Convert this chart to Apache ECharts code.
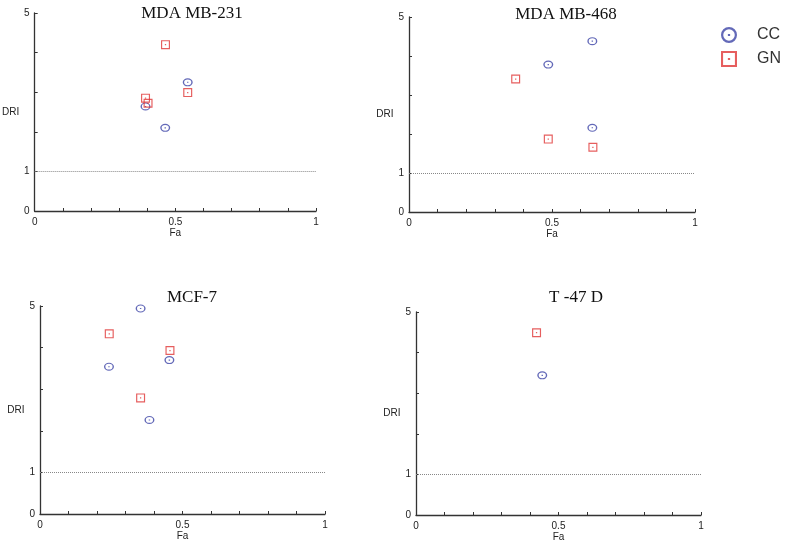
<!DOCTYPE html>
<html>
<head>
<meta charset="utf-8">
<script src="https://cdn.jsdelivr.net/npm/echarts@6/dist/echarts.min.js"></script>
<style>
  html, body { margin: 0; padding: 0; background: #fff; }
  #chart { width: 790px; height: 543px; }
</style>
</head>
<body>
<div id="chart"></div>
<script>
// panel titles
const panelTitles = ['MDA MB-231', 'MDA MB-468', 'MCF-7', 'T -47 D'];

// [Fa, DRI] points
const mb231CC = [[0.394, 2.64], [0.464, 2.10], [0.544, 3.25]];
const mb231GN = [[0.394, 2.85], [0.403, 2.72], [0.465, 4.20], [0.544, 2.99]];
const mb468CC = [[0.487, 3.78], [0.641, 4.38], [0.641, 2.16]];
const mb468GN = [[0.373, 3.41], [0.487, 1.87], [0.643, 1.66]];
const mcf7CC = [[0.242, 3.54], [0.353, 4.94], [0.384, 2.26], [0.454, 3.70]];
const mcf7GN = [[0.243, 4.33], [0.353, 2.79], [0.456, 3.93]];
const t47dCC = [[0.443, 3.44]];
const t47dGN = [[0.423, 4.49]];

const ccSets = [mb231CC, mb468CC, mcf7CC, t47dCC];
const gnSets = [mb231GN, mb468GN, mcf7GN, t47dGN];

// axis ticks
const faLabels = [0, 0.5, 1];
const driLabels = [0, 1, 5];
const refLine = 1;

// panel boxes (px)
const boxes = [
  { left: 28, top: 13, width: 288, height: 198 },
  { left: 409, top: 17, width: 286, height: 195 },
  { left: 40, top: 306, width: 285, height: 208 },
  { left: 416, top: 312, width: 285, height: 203 }
];
const titlePos = [[187, 0], [561, 1], [187, 284], [571, 284]];

const ccColor = '#3c44a6';
const gnColor = '#e03636';
// hollow markers with a centre dot, like the original plot
const circleIcon = 'path://M0,-5A5,5 0 1,1 0,5A5,5 0 1,1 0,-5Z M0,-3.6A3.6,3.6 0 1,0 0,3.6A3.6,3.6 0 1,0 0,-3.6Z M-0.7,-0.7h1.4v1.4h-1.4Z';
const squareIcon = 'path://M-5,-5H5V5H-5Z M-3.7,-3.7V3.7H3.7V-3.7Z M-0.7,-0.7h1.4v1.4h-1.4Z';

const near = (v, list) => list.some(t => Math.abs(v - t) < 1e-6);
const axisFont = { color: '#222', fontSize: 10, fontFamily: 'Liberation Sans, Arial, sans-serif' };

const chart = echarts.init(document.getElementById('chart'));

const grid = boxes.map(b => ({ ...b, containLabel: false }));
const xAxis = boxes.map((b, i) => ({
  gridIndex: i,
  type: 'value',
  min: 0,
  max: 1,
  interval: 0.1,
  name: 'Fa',
  nameLocation: 'middle',
  nameGap: 14,
  nameTextStyle: axisFont,
  axisLine: { show: true, lineStyle: { color: '#333', width: 1.3 } },
  axisTick: { show: true, inside: true, length: 3, lineStyle: { color: '#333' } },
  axisLabel: { ...axisFont, margin: 6, formatter: v => (near(v, faLabels) ? String(+v.toFixed(1)) : '') },
  splitLine: { show: false }
}));
const yAxis = boxes.map((b, i) => ({
  gridIndex: i,
  type: 'value',
  min: 0,
  max: 5,
  interval: 1,
  name: 'DRI',
  nameLocation: 'middle',
  nameRotate: 0,
  nameGap: 13,
  nameTextStyle: { ...axisFont, align: 'right', padding: [0, 0, 28, 0] },
  axisLine: { show: true, lineStyle: { color: '#333', width: 1.3 } },
  axisTick: { show: true, inside: true, length: 3, lineStyle: { color: '#333' } },
  axisLabel: { ...axisFont, margin: 5, formatter: v => (near(v, driLabels) ? String(v) : '') },
  splitLine: { show: false }
}));

const series = [];
boxes.forEach((b, i) => {
  series.push({
    name: 'CC',
    type: 'scatter',
    xAxisIndex: i,
    yAxisIndex: i,
    symbol: circleIcon,
    symbolSize: [10, 8],
    itemStyle: { color: ccColor },
    data: ccSets[i],
    markLine: {
      silent: true,
      symbol: 'none',
      label: { show: false },
      lineStyle: { color: '#888', type: 'dotted', width: 1 },
      data: [{ yAxis: refLine }]
    }
  });
  series.push({
    name: 'GN',
    type: 'scatter',
    xAxisIndex: i,
    yAxisIndex: i,
    symbol: squareIcon,
    symbolSize: 9,
    itemStyle: { color: gnColor },
    data: gnSets[i]
  });
});

chart.setOption({
  animation: false,
  title: panelTitles.map((t, i) => ({
    text: t,
    left: titlePos[i][0],
    top: titlePos[i][1],
    textAlign: 'center',
    textStyle: { fontFamily: 'Liberation Serif, Times New Roman, serif', fontSize: 17, fontWeight: 'normal', color: '#111' }
  })),
  legend: {
    data: ['CC', 'GN'],
    orient: 'vertical',
    left: 716,
    top: 22,
    itemWidth: 18,
    itemHeight: 16,
    itemGap: 8,
    textStyle: { fontFamily: 'Liberation Sans, Arial, sans-serif', fontSize: 16, color: '#333', padding: [0, 0, 0, 14] }
  },
  grid,
  xAxis,
  yAxis,
  series
});
</script>
</body>
</html>
